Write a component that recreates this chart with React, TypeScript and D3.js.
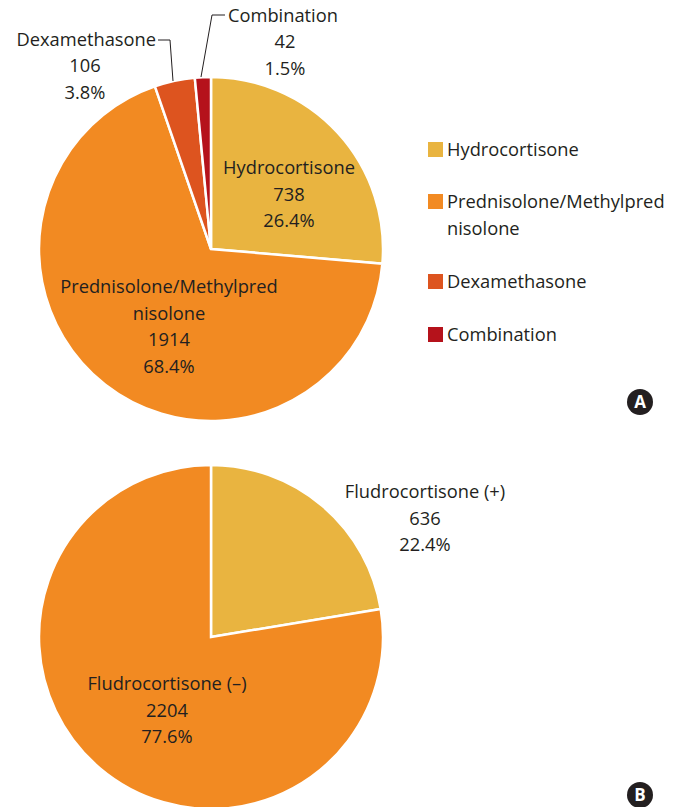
import * as d3 from "d3";

const drugNames = ["Hydrocortisone", "Prednisolone/Methylprednisolone", "Dexamethasone", "Combination"];
const drugCounts = [738, 1914, 106, 42];
const drugPcts = ["26.4%", "68.4%", "3.8%", "1.5%"];
const drugColors = ["#E9B440", "#F28A22", "#DD541F", "#B5121B"];
const legendLines = [["Hydrocortisone"], ["Prednisolone/Methylpred", "nisolone"], ["Dexamethasone"], ["Combination"]];

const fludroNames = ["Fludrocortisone (+)", "Fludrocortisone (\u2013)"];
const fludroCounts = [636, 2204];
const fludroPcts = ["22.4%", "77.6%"];
const fludroColors = ["#E9B440", "#F28A22"];

const W = 682;
const H = 807;
const R = 172;
const font = "'Open Sans', sans-serif";
const fs = 18.3;
const ink = "#231F20";

const pie = d3.pie<number>().sort(null).value(d => d);
const arc = d3.arc<d3.PieArcDatum<number>>().innerRadius(0).outerRadius(R);

function Label({ x, y, lines, anchor = "middle" }: { x: number; y: number; lines: string[]; anchor?: string }) {
  return (
    <text x={x} y={y} textAnchor={anchor as any} fontFamily={font} fontSize={fs} fill={ink}>
      {lines.map((l, i) => (
        <tspan key={i} x={x} dy={i === 0 ? 0 : 26.5}>{l}</tspan>
      ))}
    </text>
  );
}

function Badge({ x, y, t }: { x: number; y: number; t: string }) {
  return (
    <g>
      <circle cx={x} cy={y} r={13} fill="#231F20" />
      <text x={x} y={y + 6} textAnchor="middle" fontFamily="'Open Sans', sans-serif" fontWeight={700} fontSize={17} fill="#fff">{t}</text>
    </g>
  );
}

export default function App() {
  const arcsA = pie(drugCounts);
  const arcsB = pie(fludroCounts);
  const cxA = 211, cyA = 249;
  const cxB = 211, cyB = 637;

  return (
    <svg width={W} height={H} style={{ position: "absolute", left: 0, top: 0, background: "#fff" }}>
      {/* pie A */}
      <g transform={`translate(${cxA},${cyA})`}>
        {arcsA.map((a, i) => (
          <path key={i} d={arc(a) || ""} fill={drugColors[i]} stroke="#fff" strokeWidth={2.5} strokeLinejoin="miter" />
        ))}
      </g>
      <Label x={289} y={174} lines={[drugNames[0], String(drugCounts[0]), drugPcts[0]]} />
      <Label x={169} y={293} lines={["Prednisolone/Methylpred", "nisolone", String(drugCounts[1]), drugPcts[1]]} />
      <text x={156} y={46} textAnchor="end" fontFamily={font} fontSize={fs} fill={ink}>{drugNames[2]}</text>
      <Label x={85} y={72} lines={[String(drugCounts[2]), drugPcts[2]]} />
      <text x={228} y={22} fontFamily={font} fontSize={fs} fill={ink}>{drugNames[3]}</text>
      <Label x={285} y={48} lines={[String(drugCounts[3]), drugPcts[3]]} />
      <polyline points="158,40 170,40 173,81" fill="none" stroke={ink} strokeWidth={1} />
      <polyline points="225,15 212,15 201,77" fill="none" stroke={ink} strokeWidth={1} />

      {/* legend */}
      {legendLines.map((lines, i) => {
        const ys = [150, 202, 282, 335];
        return (
          <g key={i}>
            <rect x={428} y={ys[i] - 8} width={15} height={15} fill={drugColors[i]} />
            <text x={447} y={ys[i] + 6} fontFamily={font} fontSize={fs} fill={ink}>
              {lines.map((l, j) => (
                <tspan key={j} x={447} dy={j === 0 ? 0 : 27}>{l}</tspan>
              ))}
            </text>
          </g>
        );
      })}
      <Badge x={640} y={402} t="A" />

      {/* pie B */}
      <g transform={`translate(${cxB},${cyB})`}>
        {arcsB.map((a, i) => (
          <path key={i} d={arc(a) || ""} fill={fludroColors[i]} stroke="#fff" strokeWidth={2.5} />
        ))}
      </g>
      <Label x={425} y={498} lines={[fludroNames[0], String(fludroCounts[0]), fludroPcts[0]]} />
      <Label x={167} y={690} lines={[fludroNames[1], String(fludroCounts[1]), fludroPcts[1]]} />
      <Badge x={640} y={795} t="B" />
    </svg>
  );
}
